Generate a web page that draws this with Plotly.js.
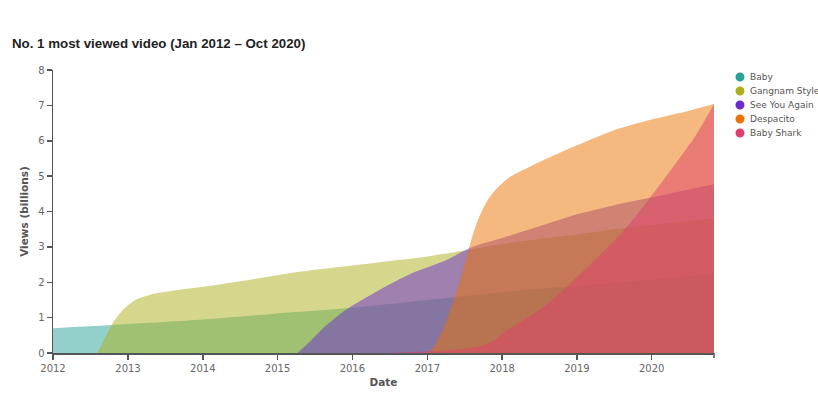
<!DOCTYPE html>
<html>
<head>
<meta charset="utf-8">
<script src="https://cdn.plot.ly/plotly-3.0.1.min.js"></script>
<style>html,body{margin:0;padding:0;background:#fff;}#chart{width:818px;height:398px;}</style>
</head>
<body>
<div id="chart"></div>
<script>
const seriesNames = ['Baby', 'Gangnam Style', 'See You Again', 'Despacito', 'Baby Shark'];
const seriesColors = ['#2aa198', '#abb01a', '#6a2ad0', '#eb7100', '#df3f6c'];

const babyDates = ['2012-01-01','2013-01-01','2014-01-01','2015-01-01','2016-01-01','2017-01-01','2018-01-01','2019-01-01','2020-01-01','2020-10-31'];
const babyViews = [0.70, 0.82, 0.95, 1.12, 1.28, 1.50, 1.72, 1.90, 2.08, 2.25];

const gangnamDates = ['2012-08-04','2012-09-13','2012-10-19','2012-12-13','2013-02-06','2013-04-20','2013-08-08','2014-01-01','2014-07-02','2015-01-01','2015-07-02','2016-01-01','2016-07-02','2017-01-01','2017-08-08','2018-01-01','2018-07-02','2019-01-01','2019-07-02','2020-01-01','2020-10-31'];
const gangnamViews = [0, 0.45, 0.85, 1.25, 1.50, 1.65, 1.76, 1.87, 2.03, 2.20, 2.35, 2.47, 2.60, 2.73, 2.93, 3.08, 3.22, 3.35, 3.50, 3.62, 3.81];

const syaDates = ['2015-04-08','2015-06-01','2015-08-08','2015-12-01','2016-05-12','2016-10-20','2017-04-05','2017-07-27','2018-01-01','2018-07-02','2019-01-01','2019-07-02','2020-01-01','2020-10-31'];
const syaViews = [0, 0.28, 0.68, 1.22, 1.78, 2.26, 2.63, 2.97, 3.25, 3.58, 3.92, 4.18, 4.40, 4.77];

const despacitoDates = ['2017-01-05','2017-02-10','2017-04-05','2017-06-06','2017-07-20','2017-09-01','2017-10-15','2017-12-01','2018-02-01','2018-05-28','2019-01-01','2019-07-02','2020-01-01','2020-07-01','2020-10-31'];
const despacitoViews = [0, 0.25, 0.93, 2.00, 2.90, 3.70, 4.25, 4.62, 4.95, 5.30, 5.87, 6.30, 6.60, 6.85, 7.04];

const sharkDates = ['2016-06-15','2017-01-01','2017-07-01','2017-10-01','2017-11-25','2018-01-01','2018-05-28','2018-09-13','2019-01-01','2019-04-20','2019-08-08','2019-10-20','2020-01-01','2020-04-20','2020-08-08','2020-10-31'];
const sharkViews = [0, 0.05, 0.12, 0.22, 0.35, 0.55, 1.08, 1.55, 2.15, 2.75, 3.40, 3.90, 4.45, 5.30, 6.20, 7.04];

const yTicks = [0, 1, 2, 3, 4, 5, 6, 7, 8];
const xTickDates = ['2012-01-01','2013-01-01','2014-01-01','2015-01-01','2016-01-01','2017-01-01','2018-01-01','2019-01-01','2020-01-01'];
const xTickLabels = ['2012','2013','2014','2015','2016','2017','2018','2019','2020'];

const allDates = [babyDates, gangnamDates, syaDates, despacitoDates, sharkDates];
const allViews = [babyViews, gangnamViews, syaViews, despacitoViews, sharkViews];

function rgba(hex, a) {
  const r = parseInt(hex.slice(1,3),16), g = parseInt(hex.slice(3,5),16), b = parseInt(hex.slice(5,7),16);
  return `rgba(${r},${g},${b},${a})`;
}

const traces = allDates.map((d, i) => ({
  type: 'scatter',
  mode: 'lines',
  x: d,
  y: allViews[i],
  name: seriesNames[i],
  fill: 'tozeroy',
  fillcolor: rgba(seriesColors[i], 0.5),
  line: {color: 'rgba(0,0,0,0)', width: 0, shape: 'spline', smoothing: 0.8},
  showlegend: false,
  hoverinfo: 'x+y+name'
}));

const plotTop = 70, plotBottom = 353;
const plotH = plotBottom - plotTop;
const legendTop = 77, legendStep = 14;

const shapes = [];
const annotations = [];
seriesNames.forEach((n, i) => {
  const yp = (plotBottom - (legendTop + i * legendStep)) / plotH;
  shapes.push({
    type: 'circle', xref: 'paper', yref: 'paper',
    xsizemode: 'pixel', ysizemode: 'pixel',
    xanchor: 1.0393, yanchor: yp,
    x0: -4.5, x1: 4.5, y0: -4.5, y1: 4.5,
    fillcolor: seriesColors[i], line: {width: 0}
  });
  annotations.push({
    xref: 'paper', yref: 'paper', x: 1.0514, y: yp,
    xanchor: 'left', yanchor: 'middle', showarrow: false,
    text: n, font: {family: 'DejaVu Sans', size: 9, color: '#555'}
  });
});
// end tick of x axis
shapes.push({type: 'line', xref: 'paper', yref: 'paper', x0: 1, x1: 1, y0: 0, y1: -5 / plotH, line: {color: '#555', width: 1.5}});

const layout = {
  width: 818, height: 398,
  margin: {l: 53, r: 104, t: 70, b: 45},
  paper_bgcolor: '#fff', plot_bgcolor: '#fff',
  showlegend: false,
  title: {
    text: 'No. 1 most viewed video (Jan 2012 – Oct 2020)',
    font: {family: 'Liberation Sans, Arial', size: 13.3, color: '#222', weight: 'bold'},
    xref: 'container', yref: 'container', x: 12 / 818, xanchor: 'left',
    y: 1 - 43 / 398, yanchor: 'middle'
  },
  xaxis: {
    type: 'date',
    range: ['2012-01-01', '2020-10-31'],
    tickvals: xTickDates, ticktext: xTickLabels,
    ticks: 'outside', ticklen: 5, tickcolor: '#555', tickwidth: 1.5,
    showline: true, linecolor: '#555', linewidth: 1.5,
    showgrid: false, zeroline: false,
    tickfont: {family: 'DejaVu Sans', size: 10, color: '#666'},
    title: {text: 'Date', font: {family: 'DejaVu Sans', size: 10.5, color: '#555', weight: 'bold'}, standoff: 6}
  },
  yaxis: {
    range: [0, 8],
    tickvals: yTicks,
    ticks: 'outside', ticklen: 5, tickcolor: '#555', tickwidth: 1.5,
    showline: true, linecolor: '#555', linewidth: 1.5,
    showgrid: false, zeroline: false,
    tickfont: {family: 'DejaVu Sans', size: 10, color: '#666'},
    title: {text: 'Views (billions)', font: {family: 'DejaVu Sans', size: 10.5, color: '#555', weight: 'bold'}, standoff: 7}
  },
  shapes: shapes,
  annotations: annotations
};

Plotly.newPlot('chart', traces, layout, {displayModeBar: false, staticPlot: true});
</script>
</body>
</html>
